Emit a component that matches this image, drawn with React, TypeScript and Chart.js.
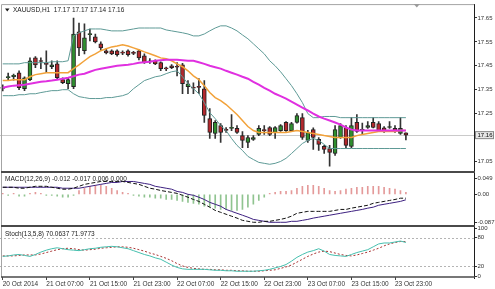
import React, { useEffect, useRef } from 'react';
import { Chart, registerables } from 'chart.js';

Chart.register(...registerables);

const FONT = '"Liberation Sans", Arial, sans-serif';
const FONT_SIZE = 6.5;
const AXIS_FONT_SIZE = 6;

const tickLabels = ['20 Oct 2014', '21 Oct 07:00', '21 Oct 15:00', '21 Oct 23:00', '22 Oct 07:00', '22 Oct 15:00', '22 Oct 23:00', '23 Oct 07:00', '23 Oct 15:00', '23 Oct 23:00'];

const opens = [17.355,17.40,17.405,17.421,17.354,17.392,17.483,17.47,17.46,17.446,
17.458,17.392,17.375,17.363,17.592,17.513,17.58,17.571,17.542,17.513,
17.513,17.513,17.504,17.513,17.504,17.513,17.492,17.471,17.471,17.463,
17.438,17.45,17.446,17.454,17.363,17.358,17.363,17.354,17.229,17.167,
17.20,17.183,17.188,17.188,17.158,17.129,17.142,17.163,17.18,17.192,
17.171,17.179,17.213,17.179,17.213,17.233,17.138,17.183,17.142,17.113,
17.104,17.083,17.15,17.192,17.113,17.213,17.18,17.192,17.213,17.208,
17.19,17.192,17.188,17.167,17.17];
const highs = [17.37,17.42,17.415,17.429,17.404,17.483,17.488,17.483,17.513,17.471,
17.471,17.40,17.40,17.65,17.629,17.625,17.604,17.583,17.55,17.521,
17.517,17.517,17.513,17.517,17.51,17.517,17.50,17.48,17.475,17.467,
17.445,17.455,17.463,17.46,17.388,17.379,17.396,17.388,17.271,17.221,
17.208,17.192,17.246,17.20,17.175,17.158,17.158,17.20,17.20,17.196,
17.196,17.204,17.217,17.213,17.25,17.25,17.18,17.19,17.15,17.117,
17.117,17.20,17.208,17.20,17.233,17.246,17.21,17.217,17.233,17.217,
17.196,17.217,17.20,17.233,17.17];
const lows = [17.345,17.39,17.39,17.35,17.346,17.388,17.442,17.438,17.421,17.438,
17.396,17.375,17.354,17.354,17.492,17.50,17.554,17.546,17.513,17.50,
17.496,17.49,17.496,17.49,17.496,17.475,17.46,17.46,17.455,17.43,
17.43,17.438,17.408,17.333,17.333,17.333,17.333,17.213,17.146,17.146,
17.129,17.171,17.179,17.167,17.108,17.108,17.138,17.158,17.163,17.158,
17.146,17.175,17.175,17.175,17.21,17.142,17.13,17.10,17.096,17.083,
17.03,17.075,17.146,17.108,17.108,17.171,17.163,17.188,17.19,17.175,
17.171,17.188,17.171,17.163,17.14];
const closes = [17.36,17.405,17.41,17.358,17.40,17.471,17.454,17.468,17.456,17.454,
17.40,17.379,17.392,17.583,17.525,17.567,17.583,17.55,17.525,17.504,
17.50,17.496,17.503,17.496,17.502,17.483,17.463,17.466,17.458,17.438,
17.437,17.442,17.444,17.375,17.375,17.356,17.36,17.242,17.171,17.213,
17.171,17.18,17.19,17.171,17.138,17.15,17.15,17.188,17.179,17.163,
17.192,17.20,17.179,17.208,17.242,17.15,17.171,17.15,17.121,17.10,
17.088,17.183,17.20,17.117,17.20,17.175,17.183,17.20,17.192,17.179,
17.175,17.196,17.175,17.188,17.16];

const bbUpper = [17.458,17.458,17.458,17.458,17.463,17.463,17.463,17.463,17.463,17.467,
17.467,17.467,17.471,17.575,17.588,17.596,17.604,17.604,17.604,17.600,
17.596,17.596,17.596,17.600,17.604,17.608,17.608,17.608,17.608,17.608,
17.600,17.596,17.592,17.588,17.583,17.575,17.575,17.583,17.596,17.608,
17.617,17.617,17.608,17.596,17.579,17.563,17.542,17.521,17.500,17.471,
17.450,17.425,17.396,17.367,17.333,17.296,17.250,17.233,17.233,17.238,
17.238,17.238,17.233,17.233,17.233,17.233,17.233,17.233,17.233,17.233,
17.233,17.233,17.233,17.233,17.233];
const bbLower = [17.325,17.325,17.325,17.329,17.329,17.333,17.333,17.338,17.342,17.346,
17.346,17.350,17.350,17.333,17.321,17.317,17.313,17.313,17.313,17.317,
17.317,17.321,17.325,17.333,17.354,17.371,17.388,17.396,17.404,17.408,
17.417,17.425,17.429,17.404,17.375,17.354,17.333,17.296,17.254,17.229,
17.200,17.179,17.146,17.117,17.096,17.071,17.058,17.046,17.042,17.038,
17.042,17.050,17.063,17.083,17.104,17.125,17.138,17.146,17.138,17.121,
17.104,17.104,17.104,17.104,17.104,17.104,17.104,17.104,17.104,17.104,
17.104,17.104,17.104,17.104,17.104];
const emaOrange = [17.388,17.388,17.392,17.392,17.392,17.404,17.413,17.417,17.421,17.421,
17.421,17.421,17.421,17.438,17.454,17.471,17.488,17.500,17.513,17.521,
17.529,17.533,17.538,17.533,17.525,17.517,17.508,17.500,17.492,17.483,
17.479,17.471,17.458,17.446,17.429,17.408,17.392,17.367,17.338,17.317,
17.304,17.288,17.267,17.246,17.221,17.196,17.179,17.171,17.171,17.171,
17.171,17.171,17.171,17.175,17.179,17.175,17.171,17.167,17.163,17.158,
17.154,17.150,17.150,17.150,17.150,17.158,17.163,17.167,17.171,17.175,
17.175,17.175,17.175,17.179,17.179];
const smaMagenta = [17.358,17.363,17.367,17.369,17.371,17.375,17.379,17.383,17.385,17.388,
17.392,17.396,17.400,17.406,17.413,17.417,17.425,17.433,17.438,17.442,
17.446,17.450,17.452,17.454,17.458,17.463,17.465,17.467,17.471,17.473,
17.475,17.475,17.475,17.473,17.471,17.471,17.465,17.458,17.450,17.444,
17.438,17.429,17.421,17.413,17.404,17.396,17.383,17.371,17.358,17.346,
17.333,17.323,17.313,17.300,17.288,17.275,17.263,17.250,17.238,17.229,
17.221,17.213,17.204,17.192,17.183,17.179,17.179,17.179,17.179,17.179,
17.179,17.179,17.179,17.179,17.179];

const macdMain = [0.022,0.022,0.022,0.019,0.019,0.022,0.025,0.025,0.025,0.022,
0.019,0.016,0.016,0.019,0.025,0.031,0.034,0.037,0.040,0.040,
0.040,0.040,0.040,0.037,0.034,0.031,0.025,0.019,0.016,0.012,
0.009,0.006,0.003,-0.003,-0.009,-0.016,-0.022,-0.031,-0.040,-0.050,
-0.056,-0.062,-0.068,-0.074,-0.081,-0.084,-0.087,-0.087,-0.084,-0.084,
-0.081,-0.078,-0.074,-0.068,-0.059,-0.056,-0.053,-0.053,-0.053,-0.053,
-0.053,-0.050,-0.047,-0.047,-0.043,-0.040,-0.037,-0.034,-0.028,-0.025,
-0.022,-0.019,-0.016,-0.012,-0.012];
const macdSignal = [0.022,0.022,0.022,0.022,0.022,0.022,0.022,0.022,0.022,0.022,
0.022,0.019,0.019,0.019,0.019,0.022,0.025,0.028,0.031,0.034,
0.037,0.037,0.040,0.040,0.040,0.037,0.034,0.031,0.025,0.022,
0.019,0.016,0.009,0.006,0.000,-0.003,-0.009,-0.016,-0.025,-0.031,
-0.037,-0.047,-0.053,-0.059,-0.065,-0.071,-0.078,-0.081,-0.084,-0.087,
-0.087,-0.087,-0.087,-0.084,-0.084,-0.081,-0.078,-0.074,-0.071,-0.068,
-0.065,-0.062,-0.059,-0.056,-0.053,-0.050,-0.047,-0.043,-0.040,-0.034,
-0.031,-0.028,-0.025,-0.022,-0.017];
const macdHist = [0.003,-0.003,0.003,-0.006,-0.006,0.003,0.006,0.003,-0.003,-0.003,
-0.006,-0.009,-0.009,-0.003,0.012,0.019,0.025,0.028,0.028,0.025,
0.019,0.012,0.006,0.003,-0.003,-0.006,-0.009,-0.009,-0.012,-0.012,
-0.016,-0.016,-0.019,-0.022,-0.025,-0.028,-0.031,-0.037,-0.040,-0.043,
-0.047,-0.047,-0.050,-0.050,-0.047,-0.040,-0.031,-0.019,-0.009,0.003,
0.006,0.009,0.009,0.012,0.019,0.025,0.028,0.028,0.025,0.019,
0.012,0.009,0.012,0.016,0.019,0.022,0.022,0.025,0.025,0.025,
0.022,0.019,0.016,0.012,0.006];

const stochMain = [41,42,44,45,43,41,45,50,54,57,
59,57,55,54,53,55,57,58,60,61,
62,61,59,57,53,49,45,42,38,35,
29,23,18,15,14,14,14,14,13,12,
12,11,11,10,10,10,10,11,12,14,
17,20,24,31,39,45,50,53,57,52,
45,43,42,41,45,49,52,55,61,67,
69,69,71,73,70.0637];
const stochSignal = [42,42,42,43,44,44,44,46,49,52,
55,57,58,57,55,54,55,56,58,59,
60,61,61,60,58,55,52,48,45,41,
37,32,26,21,18,16,15,14,14,13,
13,12,12,11,11,10,10,10,11,12,
13,16,19,23,29,35,41,46,50,52,
51,48,45,43,42,44,47,50,54,58,
63,67,70,72,71.9773];

const priceTicks = [17.65, 17.55, 17.45, 17.35, 17.25, 17.05];
const macdTicks = [0.049, 0, -0.087];
const stochTicks = [100, 80, 20, 0];
const stochLevels = [80, 20];
const bidPrice = 17.16;
const shiftBars = 12;

const headerText = 'XAUUSD,H1  17.17 17.17 17.14 17.16';
const macdText = 'MACD(12,26,9) -0.012 -0.017 0.006 0.000';
const stochText = 'Stoch(13,5,8) 70.0637 71.9773';

const categories = Array.from({ length: closes.length + shiftBars }, (_, i) => {
  const h = 23 + i;
  const day = 20 + Math.floor(h / 24);
  return `${day} Oct ${String(h % 24).padStart(2, '0')}:00`;
});

const overlayPlugin = {
  id: 'mt4Overlay',
  beforeDatasetsDraw(chart: any) {
    const { ctx, chartArea, scales } = chart;
    ctx.save();
    ctx.lineWidth = 1;
    const yb = Math.round(scales.y.getPixelForValue(bidPrice)) + 0.5;
    ctx.strokeStyle = '#cacaca';
    ctx.beginPath();
    ctx.moveTo(chartArea.left, yb);
    ctx.lineTo(chartArea.right, yb);
    ctx.stroke();
    ctx.setLineDash([2, 2]);
    ctx.strokeStyle = '#b4b4b4';
    for (const lv of stochLevels) {
      const y = Math.round(scales.stoch.getPixelForValue(lv)) + 0.5;
      ctx.beginPath();
      ctx.moveTo(chartArea.left, y);
      ctx.lineTo(chartArea.right, y);
      ctx.stroke();
    }
    ctx.restore();
  },
  afterDraw(chart: any) {
    const { ctx, chartArea, scales } = chart;
    const { right, top, bottom } = chartArea;
    ctx.save();
    ctx.lineWidth = 1;
    ctx.strokeStyle = '#a4a4a4';
    ctx.beginPath();
    ctx.moveTo(1.5, bottom);
    ctx.lineTo(1.5, top + 0.5);
    ctx.lineTo(right, top + 0.5);
    ctx.stroke();
    ctx.strokeStyle = '#1e1e1e';
    ctx.beginPath();
    ctx.moveTo(right + 0.5, top);
    ctx.lineTo(right + 0.5, bottom + 2);
    ctx.stroke();
    ctx.strokeStyle = '#4a4a4a';
    ctx.lineWidth = 2;
    for (const id of ['macd', 'stoch']) {
      const y = Math.round(scales[id].top);
      ctx.beginPath();
      ctx.moveTo(1, y);
      ctx.lineTo(right + 1, y);
      ctx.stroke();
    }
    ctx.lineWidth = 1.5;
    ctx.beginPath();
    ctx.moveTo(1, bottom);
    ctx.lineTo(right + 1, bottom);
    ctx.stroke();

    ctx.fillStyle = '#1a1a1a';
    ctx.font = `${FONT_SIZE}px ${FONT}`;
    ctx.textBaseline = 'middle';
    ctx.textAlign = 'left';
    ctx.beginPath();
    ctx.moveTo(5, 8.5);
    ctx.lineTo(9.5, 8.5);
    ctx.lineTo(7.25, 11.5);
    ctx.closePath();
    ctx.fill();
    ctx.fillText(headerText, 13, 10);
    ctx.fillText(macdText, 5, scales.macd.top + 7);
    ctx.fillText(stochText, 5, scales.stoch.top + 8);

    const yb = scales.y.getPixelForValue(bidPrice);
    ctx.fillStyle = '#e6e6e6';
    ctx.fillRect(right + 1, yb - 4, 19, 8);
    ctx.strokeStyle = '#8a8a8a';
    ctx.lineWidth = 1;
    ctx.strokeRect(right + 1.5, yb - 3.5, 18, 7);
    ctx.fillStyle = '#000';
    ctx.font = `${AXIS_FONT_SIZE}px ${FONT}`;
    ctx.fillText(bidPrice.toFixed(2), right + 3.5, yb);

    const xs = scales.x.getPixelForValue(closes.length + 1);
    ctx.fillStyle = '#9a9a9a';
    ctx.beginPath();
    ctx.moveTo(xs - 3, top);
    ctx.lineTo(xs + 3, top);
    ctx.lineTo(xs, top + 3.5);
    ctx.closePath();
    ctx.fill();
    ctx.restore();
  },
};

export default function App() {
  const ref = useRef<HTMLCanvasElement>(null);

  useEffect(() => {
    const canvas = ref.current;
    if (!canvas) return;
    Chart.defaults.font.family = FONT;

    const bodyColors = closes.map((c, i) => (c > opens[i] ? '#2f8f2f' : c < opens[i] ? '#b3282d' : '#222'));
    const histColors = macdHist.map((v) => (v >= 0 ? '#e49a9a' : '#90c490'));
    const lineBase = { type: 'line', pointRadius: 0, pointHitRadius: 0, tension: 0, fill: false, order: 0 };
    const xFont = { size: FONT_SIZE, family: FONT };
    const yFont = { size: AXIS_FONT_SIZE, family: FONT };
    const yTicks = { padding: 0.5, font: yFont, color: '#333', autoSkip: false };

    const chart = new Chart(canvas, {
      type: 'bar',
      data: {
        labels: categories,
        datasets: [
          { ...lineBase, label: 'SMA', data: smaMagenta, yAxisID: 'y', borderColor: '#e030e0', borderWidth: 2 },
          { ...lineBase, label: 'EMA', data: emaOrange, yAxisID: 'y', borderColor: '#f2a23a', borderWidth: 1.5 },
          { ...lineBase, label: 'BB upper', data: bbUpper, yAxisID: 'y', borderColor: '#5e9a96', borderWidth: 1 },
          { ...lineBase, label: 'BB lower', data: bbLower, yAxisID: 'y', borderColor: '#5e9a96', borderWidth: 1 },
          {
            type: 'bar', label: 'Bodies', data: opens.map((o, i) => [o, closes[i]]), yAxisID: 'y',
            backgroundColor: bodyColors, borderColor: '#222', borderWidth: 1, borderSkipped: false,
            barThickness: 4, minBarLength: 1, grouped: false, order: 1,
          },
          {
            type: 'bar', label: 'Wicks', data: lows.map((l, i) => [l, highs[i]]), yAxisID: 'y',
            backgroundColor: '#333', borderWidth: 0, barThickness: 1, grouped: false, order: 2,
          },
          {
            type: 'bar', label: 'MACD hist', data: macdHist, yAxisID: 'macd',
            backgroundColor: histColors, borderWidth: 0, barThickness: 1, grouped: false, order: 3,
          },
          { ...lineBase, label: 'MACD', data: macdMain, yAxisID: 'macd', borderColor: '#111', borderWidth: 1, borderDash: [4, 2] },
          { ...lineBase, label: 'Signal', data: macdSignal, yAxisID: 'macd', borderColor: '#3d2080', borderWidth: 1 },
          { ...lineBase, label: 'Stoch', data: stochMain, yAxisID: 'stoch', borderColor: '#45bfae', borderWidth: 1 },
          { ...lineBase, label: 'Stoch signal', data: stochSignal, yAxisID: 'stoch', borderColor: '#a83232', borderWidth: 1, borderDash: [2, 2] },
        ] as any,
      },
      options: {
        responsive: false,
        animation: false,
        devicePixelRatio: 1,
        events: [],
        layout: { padding: { top: 3, left: 0, right: 0, bottom: 0 } },
        plugins: { legend: { display: false }, tooltip: { enabled: false } },
        scales: {
          x: {
            type: 'category',
            offset: true,
            grid: { display: true, offset: false, drawOnChartArea: false, tickLength: 3, color: '#444' },
            border: { display: false },
            ticks: {
              autoSkip: false, maxRotation: 0, minRotation: 0, align: 'start', padding: 0,
              font: xFont, color: '#333',
              callback: (v: any) => tickLabels[Number(v) / 8] ?? '',
            },
            afterBuildTicks: (s: any) => {
              s.ticks = s.ticks.filter((t: any) => t.value % 8 === 0 && t.value / 8 < tickLabels.length);
            },
            afterFit: (s: any) => { s.height = 12; },
          },
          y: {
            type: 'linear', position: 'right', stack: 'panes', stackWeight: 169,
            min: 17.004, max: 17.708,
            grid: { drawOnChartArea: false, tickLength: 3, color: '#333' },
            border: { display: false },
            ticks: { ...yTicks, callback: (v: any) => Number(v).toFixed(2) },
            afterBuildTicks: (s: any) => { s.ticks = priceTicks.map((value) => ({ value })); },
            afterFit: (s: any) => { s.width = 21; },
          },
          macd: {
            type: 'linear', position: 'right', stack: 'panes', stackWeight: 54,
            min: -0.0992, max: 0.0682,
            grid: { drawOnChartArea: false, tickLength: 3, color: '#333' },
            border: { display: false },
            ticks: { ...yTicks, callback: (v: any) => (Number(v) === 0 ? '0.00' : Number(v).toFixed(3)) },
            afterBuildTicks: (s: any) => { s.ticks = macdTicks.map((value) => ({ value })); },
            afterFit: (s: any) => { s.width = 21; },
          },
          stoch: {
            type: 'linear', position: 'right', stack: 'panes', stackWeight: 51,
            min: -2, max: 104,
            grid: { drawOnChartArea: false, tickLength: 3, color: '#333' },
            border: { display: false },
            ticks: { ...yTicks, callback: (v: any) => String(v) },
            afterBuildTicks: (s: any) => { s.ticks = stochTicks.map((value) => ({ value })); },
            afterFit: (s: any) => { s.width = 21; },
          },
        },
      } as any,
      plugins: [overlayPlugin],
    });
    return () => chart.destroy();
  }, []);

  return (
    <div style={{ position: 'fixed', left: 0, top: 0, width: 495, height: 289, background: '#fff' }}>
      <canvas ref={ref} width={495} height={289} style={{ display: 'block', width: 495, height: 289 }} />
    </div>
  );
}
